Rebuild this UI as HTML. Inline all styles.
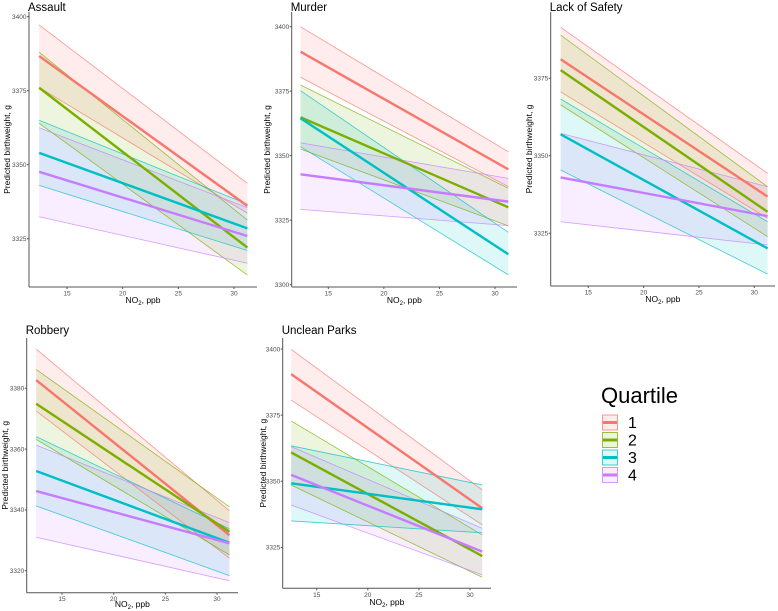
<!DOCTYPE html>
<html><head><meta charset="utf-8"><style>
body{margin:0;background:#fff;width:778px;height:611px;overflow:hidden;font-family:"Liberation Sans",Arial,sans-serif}
svg{position:absolute;left:0;top:0}
</style></head><body>
<svg id="chart" width="778" height="611"></svg>
<script>
const xDomain = [12.5, 31.2];
const quartiles = ["1","2","3","4"];
const colors = ["#F8766D","#7CAE00","#00BFC4","#C77CFF"];
// [start, end] predicted birthweight per quartile
const assaultFit   = [[3386.7,3336.1],[3376,3322],[3354,3328.5],[3347.6,3325.9]];
const assaultUpper = [[3397.2,3343.7],[3388,3331.3],[3365,3336.7],[3362.5,3335.5]];
const assaultLower = [[3376.1,3333.6],[3364,3312.7],[3343,3321],[3332.4,3316.7]];
const murderFit   = [[3390.3,3344.7],[3364.9,3330],[3364.5,3311.8],[3342.8,3332.2]];
const murderUpper = [[3400,3351.5],[3377.4,3337.4],[3375.2,3320.3],[3355,3341.2]];
const murderLower = [[3380.4,3338],[3352.6,3322.8],[3353.5,3303.8],[3329.2,3322.9]];
const safetyFit   = [[3381.1,3336.8],[3377.6,3331.9],[3356.9,3320.1],[3343,3330.5]];
const safetyUpper = [[3391.4,3344.3],[3388.9,3340],[3368.3,3328.7],[3357.2,3340]];
const safetyLower = [[3370.6,3329.8],[3366.4,3323.9],[3345.4,3311.8],[3328.7,3321.2]];
const robberyFit   = [[3382.7,3331.7],[3374.9,3332.8],[3352.8,3329.2],[3346.2,3329]];
const robberyUpper = [[3392.9,3339.7],[3386.2,3341],[3364.1,3333.8],[3361.3,3335.8]];
const robberyLower = [[3372.5,3324.1],[3363.2,3325.2],[3341.3,3318.4],[3331,3316.7]];
const parksFit   = [[3390.5,3339.8],[3360.9,3321.7],[3349.2,3339.4],[3352.4,3323.4]];
const parksUpper = [[3399.9,3346.7],[3372.8,3329.7],[3363.4,3348.6],[3363.1,3332.2]];
const parksLower = [[3380.7,3333.5],[3348.6,3313.7],[3335,3330.5],[3341,3314.6]];
const xTicks = [15,20,25,30];
const yTicksA = [3325,3350,3375,3400];
const yTicksM = [3300,3325,3350,3375,3400];
const yTicksS = [3325,3350,3375];
const yTicksR = [3320,3340,3360,3380];
const yTicksP = [3325,3350,3375,3400];

const NS="http://www.w3.org/2000/svg";
const svg=document.getElementById('chart');
function mk(tag,attrs,parent){const e=document.createElementNS(NS,tag);for(const k in attrs)e.setAttribute(k,attrs[k]);(parent||svg).appendChild(e);return e;}

const panels=[
 {key:'assault',title:'Assault',ax:29,x15:67,x30:234,yRef:[3350,164.7],ppg:2.96,top:12,base:287,right:257,ticks:yTicksA,fit:assaultFit,up:assaultUpper,lo:assaultLower,ylabX:10,titleY:11,xlabY:303},
 {key:'murder',title:'Murder',ax:291.7,x15:328.3,x30:495,yRef:[3400,26.7],ppg:2.58,top:12,base:287,right:517,ticks:yTicksM,fit:murderFit,up:murderUpper,lo:murderLower,ylabX:270,titleY:11,xlabY:303},
 {key:'lack-of-safety',title:'Lack of Safety',ax:550.7,x15:588.3,x30:754.3,yRef:[3350,155.7],ppg:3.1,top:12,base:286,right:775,ticks:yTicksS,fit:safetyFit,up:safetyUpper,lo:safetyLower,ylabX:532,titleY:11,xlabY:302},
 {key:'robbery',title:'Robbery',ax:26.7,x15:62,x30:217,yRef:[3380,388.3],ppg:3.04,top:338,base:592.7,right:238,ticks:yTicksR,fit:robberyFit,up:robberyUpper,lo:robberyLower,ylabX:8,titleY:334,xlabY:607},
 {key:'unclean-parks',title:'Unclean Parks',ax:282.7,x15:316.7,x30:470,yRef:[3400,349],ppg:2.645,top:338,base:588.3,right:491,ticks:yTicksP,fit:parksFit,up:parksUpper,lo:parksLower,ylabX:266,titleY:334,xlabY:605}
];

panels.forEach(p=>{
 const g=mk('g',{});
 
 
 const sx=v=>p.x15+(v-15)*(p.x30-p.x15)/15;
 const sy=v=>p.yRef[1]-(v-p.yRef[0])*p.ppg;
 const x0=sx(xDomain[0]),x1=sx(xDomain[1]);
 for(let q=0;q<4;q++){
  const band=mk('polygon',{points:`${x0},${sy(p.up[q][0])} ${x1},${sy(p.up[q][1])} ${x1},${sy(p.lo[q][1])} ${x0},${sy(p.lo[q][0])}`,fill:colors[q],'fill-opacity':0.13,stroke:'none'},g);
  
  
 }
 for(let q=0;q<4;q++){
  [p.up[q],p.lo[q]].forEach((d,i)=>{
   const l=mk('line',{x1:x0,y1:sy(d[0]),x2:x1,y2:sy(d[1]),stroke:colors[q],'stroke-width':0.8,'stroke-opacity':0.75},g);
   
   
  });
 }
 for(let q=0;q<4;q++){
  const l=mk('line',{x1:x0,y1:sy(p.fit[q][0]),x2:x1,y2:sy(p.fit[q][1]),stroke:colors[q],'stroke-width':2.4},g);
  
  
 }
 const ya=mk('line',{x1:p.ax,y1:p.top,x2:p.ax,y2:p.base,stroke:'#555','stroke-width':1},g);
 
 
 const xa=mk('line',{x1:p.ax,y1:p.base,x2:p.right,y2:p.base,stroke:'#555','stroke-width':1},g);
 
 
 xTicks.forEach(t=>{
  mk('line',{x1:sx(t),y1:p.base,x2:sx(t),y2:p.base+2,stroke:'#555'},g);
  const tx=mk('text',{x:sx(t),y:p.base+8.5,'font-size':6.5,fill:'#4d4d4d','text-anchor':'middle'},g);
  tx.textContent=t;
  
  
 });
 p.ticks.forEach(t=>{
  mk('line',{x1:p.ax-2,y1:sy(t),x2:p.ax,y2:sy(t),stroke:'#555'},g);
  const tx=mk('text',{x:p.ax-2.5,y:sy(t)+2.3,'font-size':6.5,fill:'#4d4d4d','text-anchor':'end'},g);
  tx.textContent=t;
  
  
 });
 const ti=mk('text',{x:p.ax-1,y:p.titleY,'font-size':11.5,fill:'#000'},g);
 ti.textContent=p.title;
 
 
 const xl=mk('text',{x:(p.ax+p.right)/2,y:p.xlabY,'font-size':8.5,fill:'#000','text-anchor':'middle'},g);
 xl.innerHTML='NO<tspan font-size="6" dy="2">2</tspan><tspan dy="-2">, ppb</tspan>';
 
 
 const cy=(p.top+p.base)/2;
 const yl=mk('text',{x:p.ylabX,y:cy,'font-size':8.5,fill:'#000','text-anchor':'middle',transform:`rotate(-90 ${p.ylabX} ${cy})`},g);
 yl.textContent='Predicted birthweight, g';
 
 
});

const lg=mk('g',{});


const lt=mk('text',{x:601,y:403,'font-size':22,fill:'#000'},lg);
lt.textContent='Quartile';


quartiles.forEach((q,i)=>{
 const y=415+i*17.5;
 const r=mk('rect',{x:602.5,y:y,width:15,height:15,fill:colors[i],'fill-opacity':0.13,stroke:colors[i],'stroke-opacity':0.75,'stroke-width':1},lg);
 
 
 mk('line',{x1:603,y1:y+7.5,x2:617,y2:y+7.5,stroke:colors[i],'stroke-width':3},lg);
 const t=mk('text',{x:628,y:y+13,'font-size':16,fill:'#000'},lg);
 t.textContent=q;
 
 
});
</script>
</body></html>
